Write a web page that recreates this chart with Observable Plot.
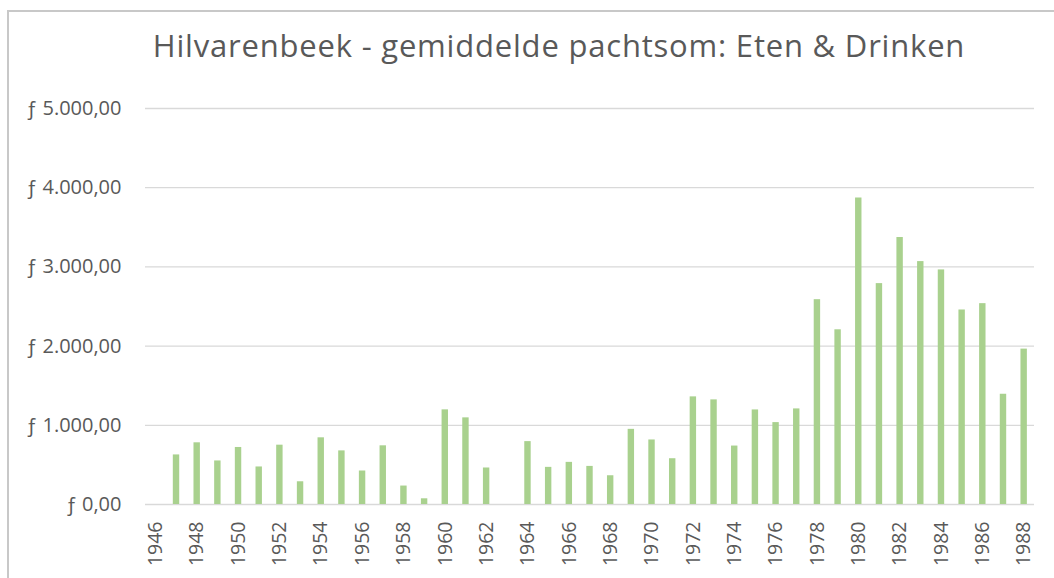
<!DOCTYPE html>
<html><head><meta charset="utf-8">
<script src="https://cdn.jsdelivr.net/npm/d3@7"></script>
<script src="https://cdn.jsdelivr.net/npm/@observablehq/plot@0.6"></script>
<style>
body{margin:0;background:#fff;font-family:"Open Sans",sans-serif;overflow:hidden;}
#frame{position:absolute;left:7px;top:10px;width:1200px;height:700px;border:2px solid #c8c8c8;box-sizing:border-box;}
#title{position:absolute;left:64px;top:0;width:990px;height:95px;text-align:center;color:#595959;font-size:31px;line-height:31px;letter-spacing:0.8px;padding-top:30px;box-sizing:border-box;white-space:nowrap;}
#chart{position:absolute;left:0;top:95px;}
</style>
</head><body>
<div id="frame"></div>
<div id="title">Hilvarenbeek - gemiddelde pachtsom: Eten &amp; Drinken</div>
<div id="chart"></div>
<script>
const years = d3.range(1946, 1989);
const values = [null, 626, 779, 550, 720, 474, 749, 287, 842, 677, 423, 741, 233, 72, 1195,
  1094, 461, null, 794, 469, 532, 481, 363, 949, 815, 578, 1359, 1321, 738, 1194,
  1034, 1207, 2586, 2206, 3870, 2789, 3371, 3067, 2962, 2456, 2536, 1392, 1962];
const yTicks = [0, 1000, 2000, 3000, 4000, 5000];
const xTicks = years.filter(y => (y - 1946) % 2 === 0);

const data = years.map((y, i) => ({year: y, value: values[i]})).filter(d => d.value != null);
const locale = d3.formatLocale({decimal: ",", thousands: ".", grouping: [3], currency: ["ƒ ", ""]});
const fmt = locale.format("$,.2f");

const chart = Plot.plot({
  width: 1054,
  height: 483,
  marginTop: 13,
  marginBottom: 74,
  marginLeft: 145,
  marginRight: 20,
  style: {fontFamily: "Open Sans", fontSize: "20px", color: "#595959", background: "transparent"},
  x: {type: "band", domain: years, paddingInner: 0.69, paddingOuter: 0.345, round: false, label: null},
  y: {domain: [0, 5000], label: null},
  marks: [
    Plot.gridY(yTicks, {stroke: "#d9d9d9", strokeOpacity: 1, strokeWidth: 1.3}),
    Plot.barY(data, {x: "year", y: "value", fill: "#a9d18e"}),
    Plot.axisY(yTicks, {tickSize: 0, tickPadding: 24, tickFormat: fmt, fontSize: 20, label: null}),
    Plot.axisX(xTicks, {tickSize: 0, tickPadding: 17, tickRotate: -90, fontSize: 19.5, label: null, tickFormat: d => String(d)})
  ]
});
document.getElementById("chart").appendChild(chart);
</script>
</body></html>
